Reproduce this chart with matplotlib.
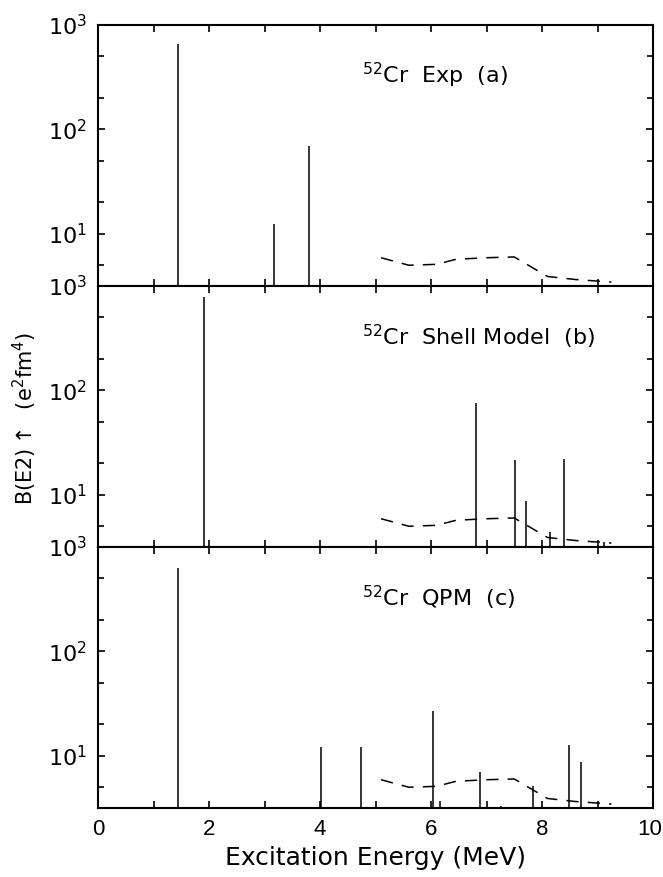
import matplotlib.pyplot as plt
import numpy as np
from matplotlib.ticker import LogLocator, FixedLocator, NullFormatter
from matplotlib.transforms import ScaledTranslation

plt.rcParams['font.family'] = ['DejaVu Sans']
plt.rcParams['mathtext.default'] = 'regular'

# B(E2) strengths (e^2 fm^4) vs excitation energy (MeV)
exp_E = [1.44, 3.17, 3.80]
exp_B = [660, 12.5, 70]

sm_E = [1.91, 6.81, 7.51, 7.71, 8.14, 8.40, 9.12]
sm_B = [780, 76, 21.5, 8.7, 4.4, 22, 3.55]

qpm_E = [1.44, 4.02, 4.74, 6.03, 6.16, 6.88, 7.27, 7.84, 8.49, 8.71]
qpm_B = [630, 12.2, 12.2, 27, 3.7, 7.0, 3.3, 5.1, 12.7, 8.8]

# dashed curve (same in all panels)
lim_E = [5.1, 5.6, 6.1, 6.45, 7.0, 7.5, 8.1, 8.6, 9.25]
lim_B = [5.9, 5.0, 5.1, 5.7, 5.9, 6.0, 3.9, 3.65, 3.45]

labels = [r'$^{52}$Cr  Exp  (a)', r'$^{52}$Cr  Shell Model  (b)', r'$^{52}$Cr  QPM  (c)']
data = [(exp_E, exp_B), (sm_E, sm_B), (qpm_E, qpm_B)]

ymin = 10 ** 0.5
fig, axes = plt.subplots(3, 1, figsize=(6.63, 8.77), dpi=100, sharex=True)
fig.subplots_adjust(left=98/663, right=653/663, top=1-25/877, bottom=1-808/877, hspace=0)

for ax, (E, B), lab in zip(axes, data, labels):
    ax.vlines(E, 1, B, color='black', lw=1.1)
    ax.plot(lim_E, lim_B, color='black', lw=1.1, dashes=(8, 6))
    ax.set_yscale('log')
    ax.set_ylim(ymin, 1000)
    ax.set_xlim(0, 10)
    ax.set_yticks([10, 100, 1000])
    ax.set_yticklabels(['$10^1$', '$10^2$', '$10^3$'])
    ax.yaxis.set_minor_locator(LogLocator(base=10, subs=(2, 5)))
    ax.yaxis.set_minor_formatter(NullFormatter())
    ax.xaxis.set_major_locator(FixedLocator([0, 2, 4, 6, 8, 10]))
    ax.xaxis.set_minor_locator(FixedLocator([1, 3, 5, 7, 9]))
    ax.tick_params(which='both', direction='in', top=True, right=True,
                   labelsize=16, width=1.2)
    ax.tick_params(axis='x', labelfontfamily='Liberation Sans')
    ax.tick_params(which='major', length=5, pad=8)
    ax.tick_params(which='minor', length=4)
    ax.tick_params(axis='x', which='minor', length=5)
    for s in ax.spines.values():
        s.set_linewidth(1.5)
    ax.text(0.476, 0.805, lab, transform=ax.transAxes, fontsize=16, va='center')

axes[2].set_xlabel('Excitation Energy (MeV)', fontsize=18, labelpad=4)
fig.text(0.038, 0.523, r'B(E2)$\uparrow$  (e$^2$fm$^4$)', rotation=90,
         fontsize=15, va='center', ha='center')

# keep the "10" label inside the picture
fig.canvas.draw()
last = axes[2].get_xticklabels()[-1]
last.set_transform(last.get_transform() + ScaledTranslation(-3/100, 0, fig.dpi_scale_trans))

plt.savefig('out.png', dpi=100)
